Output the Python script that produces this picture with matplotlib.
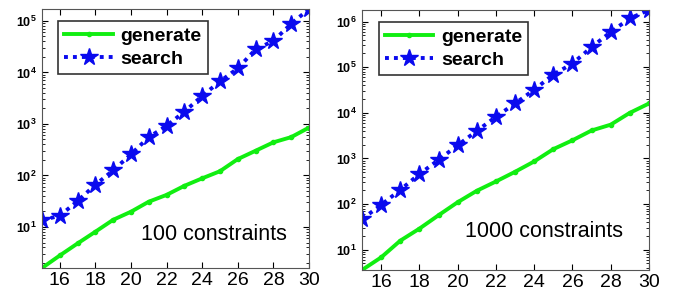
import math
import matplotlib
matplotlib.use("Agg")
import matplotlib.pyplot as plt
from matplotlib.ticker import FuncFormatter, LogLocator, NullFormatter

plt.rcParams['font.family'] = ['Liberation Sans', 'DejaVu Sans']
plt.rcParams['mathtext.fontset'] = 'custom'
plt.rcParams['mathtext.rm'] = 'Liberation Sans'
plt.rcParams['mathtext.bf'] = 'Liberation Sans:bold'

# number of variables
n = list(range(15, 31))

# 100 constraints
gen_100 = [1.6, 2.8, 4.8, 8.1, 13.8, 19.8, 31, 42, 63, 88, 121, 208, 302, 440, 555, 850]
search_100 = [13.6, 16.5, 32, 66, 126, 258, 555, 920, 1730, 3500, 6700, 12000,
              28000, 41000, 88000, 170000]

# 1000 constraints
gen_1000 = [3.6, 6.8, 15.8, 29, 57, 110, 196, 313, 510, 860, 1600, 2500,
            4100, 5500, 10000, 16000]
search_1000 = [47, 96, 205, 455, 930, 1950, 4000, 8200, 16000, 32000, 69000,
               120000, 275000, 590000, 1170000, 1800000]

panels = [
    (gen_100, search_100, '100 constraints', [0.0617, 0.1037, 0.392, 0.866], (0.37, 0.11)),
    (gen_1000, search_1000, '1000 constraints', [0.5316, 0.097, 0.4214, 0.870], (0.36, 0.125)),
]


def sci(v, p):
    return r'$\mathbf{10^{%d}}$' % round(math.log10(v))


fig = plt.figure(figsize=(6.81, 2.99), dpi=100)

for gen, search, label, pos, txt in panels:
    ax = fig.add_axes(pos)
    ax.semilogy(n, gen, color='#11ee11', lw=2.8, marker='.', markersize=6,
                label='generate')
    ax.semilogy(n, search, color='#0a0aee', lw=2.8, ls=(0, (1, 1.3)), marker='*',
                markersize=13, label='search')
    ax.set_xlim(15, 30)
    ax.set_ylim(min(gen), max(search))
    ax.set_xticks(range(16, 31, 2))
    ax.yaxis.set_major_locator(LogLocator(base=10))
    ax.yaxis.set_minor_locator(LogLocator(base=10, subs=range(2, 10)))
    ax.yaxis.set_minor_formatter(NullFormatter())
    ax.yaxis.set_major_formatter(FuncFormatter(sci))
    ax.tick_params(which='both', direction='in', top=True, right=True)
    ax.tick_params(which='major', length=4, width=0.8)
    ax.tick_params(which='minor', length=2, width=0.6)
    ax.tick_params(axis='x', labelsize=14, pad=3)
    ax.tick_params(axis='y', labelsize=9, pad=4)
    for s in ax.spines.values():
        s.set_color('#555555')
    leg = ax.legend(loc='upper left', bbox_to_anchor=(0.025, 0.99),
                    prop={'weight': 'bold', 'size': 14}, handlelength=2.5,
                    handletextpad=0.4, borderpad=0.3, labelspacing=0.3,
                    fancybox=False, framealpha=1)
    leg.get_frame().set_edgecolor('#333333')
    leg.get_frame().set_linewidth(1.2)
    ax.text(txt[0], txt[1], label, transform=ax.transAxes, fontsize=15.5)

fig.savefig('out.png', dpi=100)
